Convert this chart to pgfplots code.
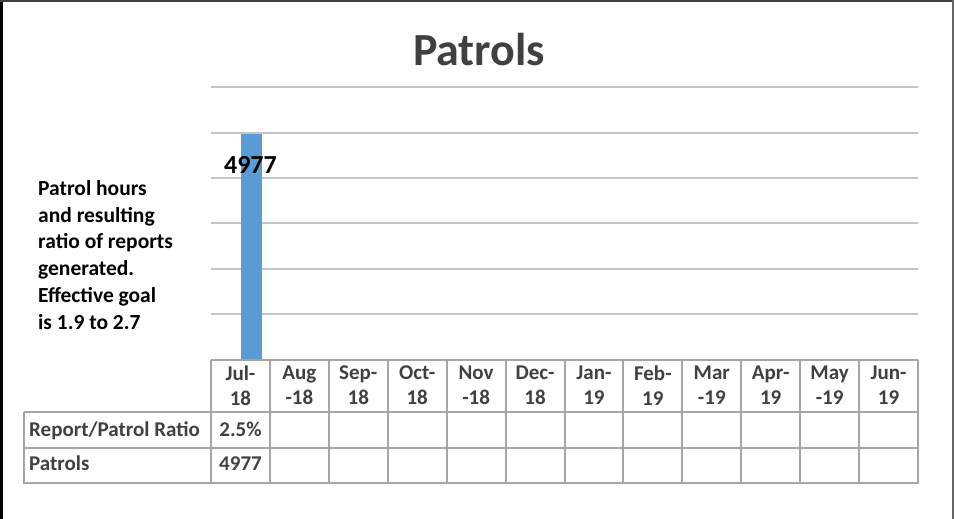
\documentclass[border=0pt]{standalone}
\usepackage{pgfplots}
\pgfplotsset{compat=1.18}
\usepackage{fontspec}
\setmainfont{Carlito}
\definecolor{barblue}{HTML}{5B9BD5}
\definecolor{txtgray}{HTML}{404040}
\definecolor{tblgray}{HTML}{A6A6A6}
\definecolor{gridlo}{HTML}{C4C4C4}
\definecolor{gridhi}{HTML}{DEDEDE}
\begin{document}
\begin{tikzpicture}[x=1pt,y=1pt]
\useasboundingbox (0,0) rectangle (954,519);
% frame
\draw[black, line width=3pt] (1.5,0) -- (1.5,519);
\draw[black!75, line width=2pt] (0,518) -- (954,518);
\draw[black!60, line width=1.5pt] (953,0) -- (953,519);
% title
\node[anchor=base, inner sep=0pt, font=\fontsize{46}{52}\selectfont\bfseries, text=txtgray] at (479,453) {Patrols};
% side text
\node[anchor=north west, inner sep=0pt, align=left, font=\fontsize{21.5}{26.8}\selectfont\bfseries, text=black] at (38,339)
 {Patrol hours\\and resulting\\ratio of reports\\generated.\\Effective goal\\is 1.9 to 2.7};
\begin{axis}[
  at={(211pt,159pt)}, anchor=south west,
  scale only axis, width=707pt, height=273pt,
  xmin=-0.5, xmax=11.5, ymin=0, ymax=6000,
  xtick={0,...,11},
  xticklabels={{Jul-\\18},{Aug\\-18},{Sep-\\18},{Oct-\\18},{Nov\\-18},{Dec-\\18},{Jan-\\19},{Feb-\\19},{Mar\\-19},{Apr-\\19},{May\\-19},{Jun-\\19}},
  ytick={1000,2000,3000}, yticklabels={},
  extra y ticks={4000,5000,6000}, extra y tick labels={},
  extra y tick style={grid style={gridhi, line width=2pt}},
  ymajorgrids, major grid style={gridlo, line width=2pt},
  major tick length=0pt,
  axis line style={draw=none},
  xticklabel style={align=center, inner sep=0pt, yshift=-6pt, font=\fontsize{21}{25}\selectfont\bfseries, text=txtgray},
]
\addplot[ybar, bar width=20.6pt, bar shift=11pt, fill=barblue, draw=none,
  nodes near coords,
  nodes near coords style={anchor=north, yshift=-19pt, xshift=10pt, font=\fontsize{26}{30}\selectfont\bfseries, text=black,
    /pgf/number format/1000 sep={}, /pgf/number format/assume math mode=true}]
  coordinates {(0,4977)};
\end{axis}
% data table
\foreach \i in {0,...,12} \draw[tblgray, line width=2pt] ({211+\i*58.917},159) -- ({211+\i*58.917},36);
\draw[tblgray, line width=2pt] (211,159) -- (918,159);
\draw[tblgray, line width=2pt] (24,107) -- (918,107);
\draw[tblgray, line width=2pt] (24,71) -- (918,71);
\draw[tblgray, line width=2pt] (23,36) -- (919,36);
\draw[tblgray, line width=2pt] (24,107) -- (24,36);
\node[anchor=base west, inner sep=0pt, font=\fontsize{21}{25}\selectfont\bfseries, text=txtgray] at (29,82) {Report/Patrol Ratio};
\node[anchor=base west, inner sep=0pt, font=\fontsize{21}{25}\selectfont\bfseries, text=txtgray] at (29,48) {Patrols};
\node[anchor=base, inner sep=0pt, font=\fontsize{21}{25}\selectfont\bfseries, text=txtgray] at (240.5,82) {2.5\%};
\node[anchor=base, inner sep=0pt, font=\fontsize{21}{25}\selectfont\bfseries, text=txtgray] at (240.5,48) {4977};
\end{tikzpicture}
\end{document}
